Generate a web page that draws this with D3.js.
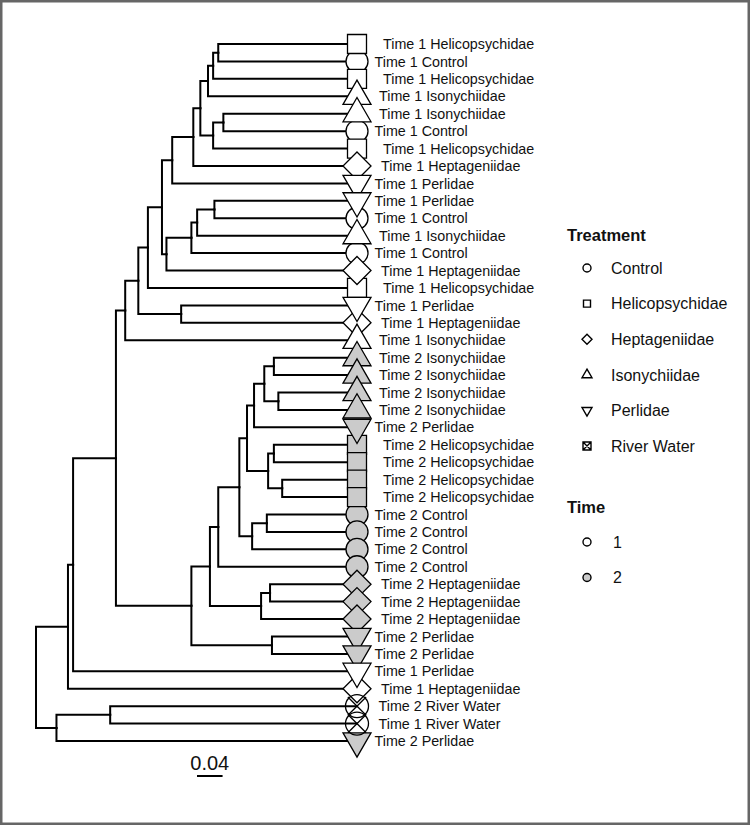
<!DOCTYPE html>
<html><head><meta charset="utf-8">
<script src="https://cdn.jsdelivr.net/npm/d3@7"></script>
<style>
body{margin:0;background:#fff}
svg{display:block}
text{font-family:"Liberation Sans",Arial,Helvetica,sans-serif;fill:#111}
</style>
</head><body>
<svg id="chart" width="750" height="825"></svg>
<script>
// ---------- data (leaves in display order, top to bottom) ----------
const leafTimes = [1,1,1,1,1,1,1,1,1,1,1,1,1,1,1,1,1,1,
                   2,2,2,2,2,2,2,2,2,2,2,2,2,2,2,2,2,2,
                   1,1,2,1,2];
const leafTreatments = [
  "Helicopsychidae","Control","Helicopsychidae","Isonychiidae","Isonychiidae","Control",
  "Helicopsychidae","Heptageniidae","Perlidae","Perlidae","Control","Isonychiidae",
  "Control","Heptageniidae","Helicopsychidae","Perlidae","Heptageniidae","Isonychiidae",
  "Isonychiidae","Isonychiidae","Isonychiidae","Isonychiidae","Perlidae",
  "Helicopsychidae","Helicopsychidae","Helicopsychidae","Helicopsychidae",
  "Control","Control","Control","Control",
  "Heptageniidae","Heptageniidae","Heptageniidae","Perlidae","Perlidae",
  "Perlidae","Heptageniidae","River Water","River Water","Perlidae"];
// hclust-style merge table: negative = leaf number, positive = earlier merge row
const merges = [
  [-1,-2],[1,-3],[2,-4],[-5,-6],[4,-7],[3,5],[6,-8],[7,-9],
  [-10,-11],[9,-12],[10,-13],[11,-14],[8,12],[13,-15],[-16,-17],[14,15],[16,-18],
  [-19,-20],[-21,-22],[18,19],[20,-23],[-24,-25],[-26,-27],[22,23],[21,24],
  [-28,-29],[26,-30],[25,27],[28,-31],[-32,-33],[30,-34],[29,31],[-35,-36],[32,33],
  [17,34],[35,-37],[36,-38],[-39,-40],[38,-41],[37,39]];
const mergeHeights = [
  0.217,0.225,0.233,0.209,0.225,0.245,0.256,0.289,
  0.223,0.250,0.259,0.298,0.305,0.327,0.275,0.342,0.3625,
  0.130,0.123,0.145,0.161,0.130,0.117,0.139,0.172,
  0.141,0.164,0.184,0.217,0.136,0.150,0.230,0.133,0.259,
  0.377,0.444,0.452,0.386,0.470,0.502];
const treatmentLevels = ["Control","Helicopsychidae","Heptageniidae","Isonychiidae","Perlidae","River Water"];
const timeLevels = [1,2];
const scaleBarValue = 0.04;

// ---------- styles ----------
const timeFill = {1:"#ffffff", 2:"#cbcbcb"};
const labelX = {"Control":374.5,"Perlidae":374.5,"Isonychiidae":379,"Heptageniidae":381,"Helicopsychidae":383,"River Water":378.5};

const svg = d3.select("#chart");
svg.append("rect").attr("x",1.25).attr("y",1.25).attr("width",747.5).attr("height",822.5)
  .attr("fill","#fff").attr("stroke","#666").attr("stroke-width",2.5);

// ---------- build tree ----------
const leaves = leafTreatments.map((t,i)=>({index:i, treatment:t, time:leafTimes[i],
  label:"Time "+leafTimes[i]+" "+t, height:0}));
const nodes = [];
merges.forEach((m,k)=>{
  const get = v => v<0 ? leaves[-v-1] : nodes[v-1];
  nodes.push({children:[get(m[0]),get(m[1])], height:mergeHeights[k]});
});
const root = d3.hierarchy(nodes[nodes.length-1]);

const maxH = d3.max(mergeHeights);
const x = d3.scaleLinear().domain([0,maxH]).range([357,36]);
const y = d3.scaleLinear().domain([0,leaves.length-1]).range([44,741]);

root.eachAfter(n=>{
  n.px = x(n.data.height);
  if(!n.children) n.py = y(n.data.index);
  else n.py = (n.children[0].py + n.children[1].py)/2;
});

// ---------- links ----------
const g = svg.append("g");
g.selectAll("path.link").data(root.links()).join("path")
  .attr("class","link")
  .attr("d",l=>`M${l.source.px},${l.source.py}V${l.target.py}H${l.target.px}`)
  .attr("fill","none").attr("stroke","#000").attr("stroke-width",2)
  .attr("stroke-linecap","square");

// ---------- markers ----------
function shapePath(t, s){
  if(t==="Control") return d3.symbol(d3.symbolCircle, Math.PI*(11*s)**2)();
  if(t==="Helicopsychidae") return d3.symbol(d3.symbolSquare, (19*s)**2)();
  if(t==="Heptageniidae"){ const r=14*s; return `M0,${-r}L${r},0L0,${r}L${-r},0Z`; }
  if(t==="Isonychiidae") return d3.symbol(d3.symbolTriangle, (28*s)**2*Math.sqrt(3)/4)();
  if(t==="Perlidae") return d3.symbol(d3.symbolTriangle, (28*s)**2*Math.sqrt(3)/4)();
  if(t==="River Water"){ const r=11.5*s, c=r*Math.SQRT1_2+1;
    return `M${r},0A${r},${r} 0 1,1 ${-r},0A${r},${r} 0 1,1 ${r},0Z M${-c},${-c}L${c},${c}M${c},${-c}L${-c},${c}`; }
}
const leafNodes = root.leaves().slice().sort((a,b)=>
  d3.ascending(treatmentLevels.indexOf(a.data.treatment), treatmentLevels.indexOf(b.data.treatment)) ||
  d3.ascending(a.data.index,b.data.index));
g.selectAll("path.mk").data(leafNodes).join("path")
  .attr("class","mk")
  .attr("d",d=>shapePath(d.data.treatment,1))
  .attr("transform",d=>`translate(${d.px},${d.py})`+(d.data.treatment==="Perlidae"?" rotate(180)":""))
  .attr("fill",d=>d.data.treatment==="River Water"?"none":timeFill[d.data.time])
  .attr("stroke","#000").attr("stroke-width",1.3);

// ---------- labels ----------
g.selectAll("text.lab").data(root.leaves()).join("text")
  .attr("class","lab")
  .attr("x",d=>labelX[d.data.treatment])
  .attr("y",d=>d.py)
  .attr("dy","0.36em")
  .attr("font-size",14.3)
  .text(d=>d.data.label);

// ---------- scale bar ----------
const sbLeft = 197;
const sbLen = x(0)-x(scaleBarValue);
svg.append("line").attr("x1",sbLeft).attr("x2",sbLeft+sbLen).attr("y1",776).attr("y2",776)
  .attr("stroke","#000").attr("stroke-width",2);
svg.append("text").attr("x",sbLeft+sbLen/2).attr("y",770).attr("text-anchor","middle")
  .attr("font-size",20).text(String(scaleBarValue));

// ---------- legend ----------
const lg = svg.append("g");
lg.append("text").attr("x",567).attr("y",241).attr("font-size",16.5).attr("font-weight","bold").text("Treatment");
const legSym = {
  "Control": d3.symbol(d3.symbolCircle, Math.PI*16)(),
  "Helicopsychidae": d3.symbol(d3.symbolSquare, 49)(),
  "Heptageniidae": "M0,-5L5,0L0,5L-5,0Z",
  "Isonychiidae": d3.symbol(d3.symbolTriangle, 100*Math.sqrt(3)/4)(),
  "Perlidae": d3.symbol(d3.symbolTriangle, 100*Math.sqrt(3)/4)(),
  "River Water": "M-4,-4H4V4H-4Z M-4,-4L4,4M4,-4L-4,4"
};
const legY = d3.scaleLinear().domain([0,5]).range([268,446]);
const items = lg.selectAll("g.ti").data(treatmentLevels).join("g").attr("class","ti")
  .attr("transform",(d,i)=>`translate(0,${legY(i)})`);
items.append("path").attr("d",d=>legSym[d])
  .attr("transform",d=>"translate(587,0)"+(d==="Perlidae"?" rotate(180)":""))
  .attr("fill","none").attr("stroke","#000").attr("stroke-width",1.4);
items.append("text").attr("x",611).attr("dy","0.36em").attr("font-size",16).text(d=>d);

lg.append("text").attr("x",567).attr("y",513).attr("font-size",16.5).attr("font-weight","bold").text("Time");
const tItems = lg.selectAll("g.tm").data(timeLevels).join("g").attr("class","tm")
  .attr("transform",(d,i)=>`translate(0,${542+i*35.5})`);
tItems.append("circle").attr("cx",587).attr("r",4)
  .attr("fill",d=>timeFill[d]).attr("stroke","#000").attr("stroke-width",1.4);
tItems.append("text").attr("x",613).attr("dy","0.36em").attr("font-size",16).text(d=>d);
</script>
</body></html>
